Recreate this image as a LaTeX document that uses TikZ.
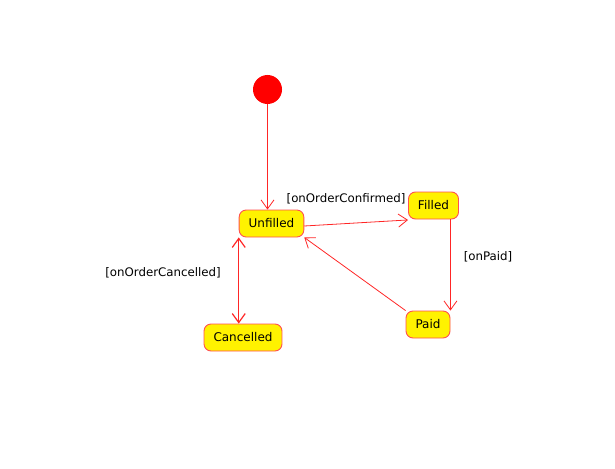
\documentclass[tikz,border=0pt]{standalone}
\usepackage{fontspec}
\setmainfont{DejaVu Sans}
\usepackage{tikz}
\usetikzlibrary{arrows.meta}

\definecolor{stateline}{RGB}{255,80,80}

\begin{document}
\begin{tikzpicture}[x=1pt, y=-1pt,
    state/.style={draw=stateline, line width=0.9pt, fill=yellow, rounded corners=7pt,
      minimum height=27pt, inner xsep=9.5pt, font=\fontsize{12}{14}\selectfont},
    guard/.style={font=\fontsize{11.8}{14}\selectfont},
    trans/.style={draw=red!85!white, line width=0.8pt, -{Straight Barb[length=9pt,width=13pt]}}]
  \useasboundingbox (0,0) rectangle (615,468);

  \node[circle, fill=red, minimum size=29pt, inner sep=0pt] (init) at (267.5,89.5) {};

  \node[state] (unfilled) at (271.5,223.5) {Unfilled};
  \node[state] (filled) at (433.5,205.5) {Filled};
  \node[state] (paid) at (428,324.5) {Paid};
  \node[state] (cancelled) at (243,337.5) {Cancelled};

  \node[guard] (gconfirmed) at (346,199) {[onOrderConfirmed]};
  \node[guard] (gpaid) at (488,257) {[onPaid]};
  \node[guard] (gcancelled) at (163,273) {[onOrderCancelled]};

  \draw[trans] (init.south) -- (init.south |- unfilled.north);
  \draw[trans] ([yshift=-2.5pt]unfilled.east) -- ([yshift=-0.5pt]filled.south west);
  \draw[trans] (paid.north east |- filled.south) -- (paid.north east);
  \draw[trans] (paid.north west) -- (unfilled.south east);
  \draw[trans, {Straight Barb[length=9pt,width=13pt]}-{Straight Barb[length=9pt,width=13pt]}, line width=1.2pt]
    (unfilled.south west) -- (unfilled.south west |- cancelled.north);
\end{tikzpicture}
\end{document}
